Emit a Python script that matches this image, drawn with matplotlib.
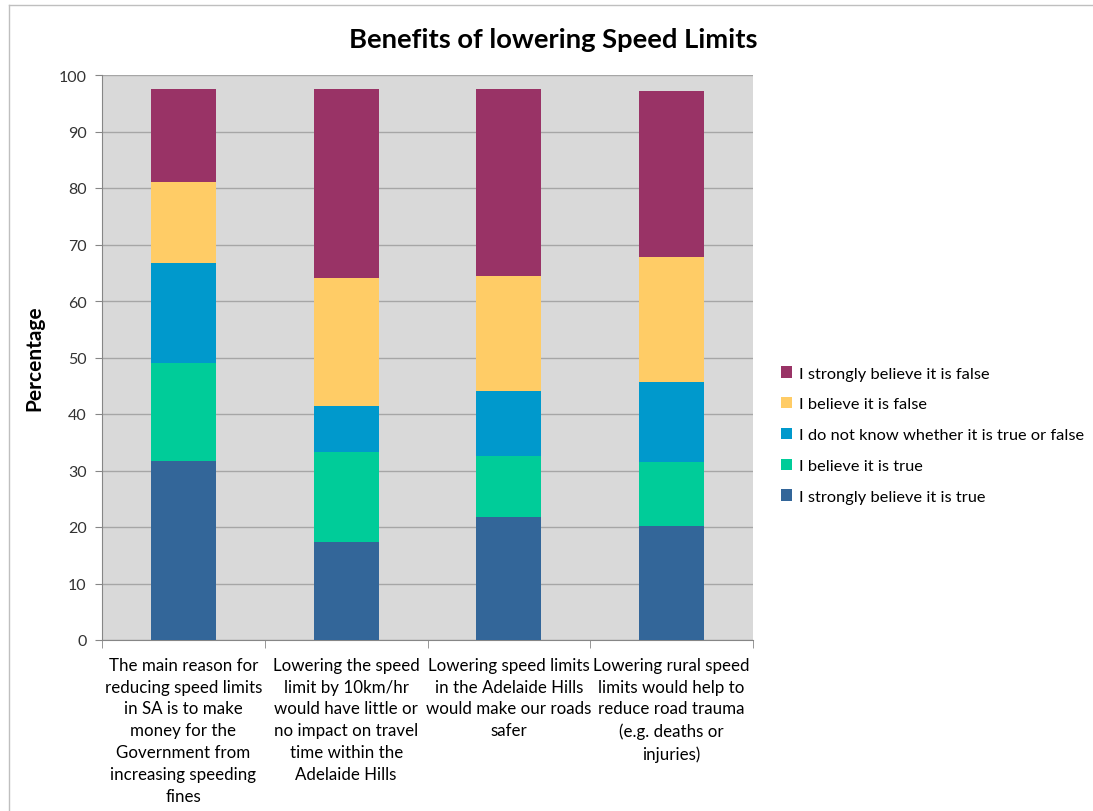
import matplotlib
matplotlib.use('Agg')
import matplotlib.pyplot as plt
import numpy as np

# Datos (porcentajes)
categories = [
    "The main reason for\nreducing speed limits\nin SA is to make\nmoney for the\nGovernment from\nincreasing speeding\nfines",
    "Lowering the speed\nlimit by 10km/hr\nwould have little or\nno impact on travel\ntime within the\nAdelaide Hills",
    "Lowering speed limits\nin the Adelaide Hills\nwould make our roads\nsafer",
    "Lowering rural speed\nlimits would help to\nreduce road trauma\n(e.g. deaths or\ninjuries)",
]
strongly_true = [31.7, 17.4, 21.7, 20.1]
believe_true = [17.3, 15.9, 10.9, 11.4]
dont_know = [17.8, 8.1, 11.4, 14.1]
believe_false = [14.2, 22.7, 20.5, 22.2]
strongly_false = [16.6, 33.5, 33.0, 29.3]

series_labels = [
    "I strongly believe it is true",
    "I believe it is true",
    "I do not know whether it is true or false",
    "I believe it is false",
    "I strongly believe it is false",
]
series_colors = ["#336699", "#00CC99", "#0099CC", "#FFCC66", "#993366"]

FONT = ['Lato', 'DejaVu Sans']

fig = plt.figure(figsize=(10.93, 8.12), dpi=100)
ax = fig.add_axes([102 / 1093, 1 - 641 / 812, (753 - 102) / 1093, (641 - 76) / 812])
ax.set_facecolor('#D9D9D9')

x = np.arange(len(categories))
bottom = np.zeros(len(categories))
handles = []
for vals, lab, col in zip([strongly_true, believe_true, dont_know, believe_false, strongly_false],
                          series_labels, series_colors):
    h = ax.bar(x, vals, bottom=bottom, width=0.4, color=col, label=lab, zorder=3)
    handles.append(h)
    bottom += np.array(vals)

ax.set_xlim(-0.5, len(categories) - 0.5)
ax.set_ylim(0, 100)
ax.set_yticks(range(0, 101, 10))
ax.yaxis.grid(True, color='#A6A6A6', linewidth=1.0, zorder=0)
ax.set_axisbelow(True)

for tl in ax.get_yticklabels():
    tl.set_fontfamily(FONT)
    tl.set_fontsize(11.5)
    tl.set_color('#333333')

ax.set_xticks(x)
ax.set_xticklabels(categories, fontsize=12.2, family=FONT, linespacing=1.45)
ax.set_xticks(np.arange(-0.5, len(categories)), minor=True)
ax.tick_params(axis='x', which='major', length=0, pad=12)
ax.tick_params(axis='x', which='minor', length=6, color='#868686', direction='out')
ax.tick_params(axis='y', length=5, color='#868686', direction='out', pad=6)

for side in ['top', 'right']:
    ax.spines[side].set_visible(False)
ax.spines['left'].set_color('#868686')
ax.spines['bottom'].set_color('#868686')

ax.set_ylabel('Percentage', fontsize=15, fontweight='bold', family=FONT, labelpad=10)

fig.text(553 / 1093, 1 - 40 / 812, 'Benefits of lowering Speed Limits',
         ha='center', va='center', fontsize=19.7, fontweight='bold', family=FONT)

leg = fig.legend(handles[::-1], series_labels[::-1], loc='center left',
                 bbox_to_anchor=(766 / 1093, 1 - 436 / 812), frameon=False,
                 prop={'family': FONT, 'size': 11.8}, handlelength=0.7, handleheight=0.7,
                 handletextpad=0.4, labelspacing=1.0)

# marco del gráfico
fig.add_artist(plt.Line2D([0.008, 1], [1 - 6 / 812, 1 - 6 / 812], color='#BFBFBF', linewidth=1))
fig.add_artist(plt.Line2D([0.008, 0.008], [0, 1 - 6 / 812], color='#BFBFBF', linewidth=1))

fig.savefig('out.png', dpi=100)
plt.close(fig)
